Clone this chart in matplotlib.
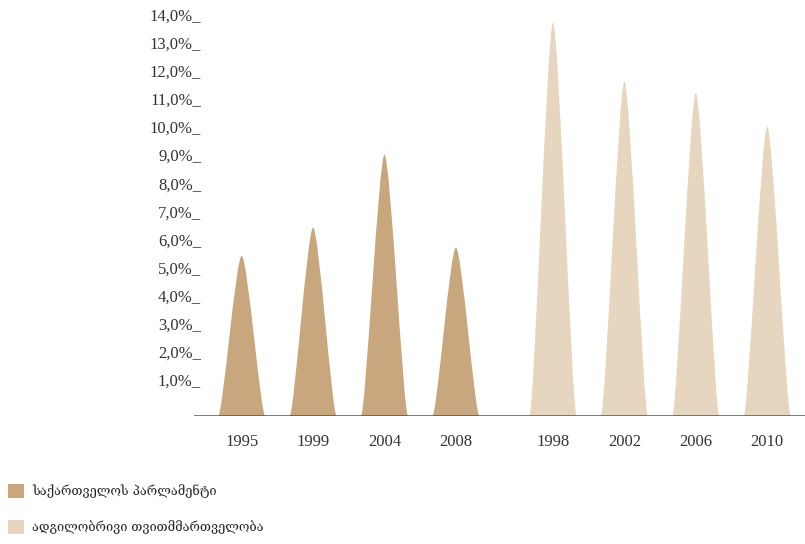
import matplotlib
matplotlib.use("Agg")
import matplotlib.pyplot as plt
from matplotlib.path import Path
from matplotlib.patches import PathPatch, Patch
from matplotlib.transforms import blended_transform_factory, offset_copy

# ---- data ----
parl_years = ["1995", "1999", "2004", "2008"]
parl_values = [5.7, 6.7, 9.3, 6.0]
local_years = ["1998", "2002", "2006", "2010"]
local_values = [14.0, 11.9, 11.5, 10.3]
series_labels = ["საქართველოს პარლამენტი", "ადგილობრივი თვითმმართველობა"]
series_colors = ["#C8A77F", "#E6D6C0"]
ytick_values = list(range(1, 15))
ytick_labels = [f"{v},0%_" for v in ytick_values]

# ---- layout ----
W, H, DPI = 805, 544, 100
fig = plt.figure(figsize=(W / DPI, H / DPI), dpi=DPI)
base_px = 416
px_per_unit_y = 28.1
ymax = 14.5
top_px = base_px - ymax * px_per_unit_y
ax = fig.add_axes([194 / W, 1 - base_px / H, (W - 194) / W, (base_px - top_px) / H])

group_gap = 4.36
x_parl = [i for i in range(len(parl_values))]
x_local = [group_gap + i for i in range(len(local_values))]
hw = 0.33  # half width of a peak in category units
c_base, c_top = 0.8, 0.25  # bezier control shape


def peak(x0, v):
    verts = [
        (x0 - hw, 0),
        (x0 - c_base * hw, 0), (x0 - c_top * hw, v), (x0, v),
        (x0 + c_top * hw, v), (x0 + c_base * hw, 0), (x0 + hw, 0),
        (x0 - hw, 0),
    ]
    codes = [Path.MOVETO,
             Path.CURVE4, Path.CURVE4, Path.CURVE4,
             Path.CURVE4, Path.CURVE4, Path.CURVE4,
             Path.CLOSEPOLY]
    return Path(verts, codes)


for xs, vals, col in [(x_parl, parl_values, series_colors[0]),
                      (x_local, local_values, series_colors[1])]:
    for x0, v in zip(xs, vals):
        ax.add_patch(PathPatch(peak(x0, v), facecolor=col, edgecolor="none", zorder=2))

ax.set_xlim(-0.668, 7.889)
ax.set_ylim(0, ymax)
ax.axhline(0, color="#555555", lw=1.8, zorder=3)

for s in ax.spines.values():
    s.set_visible(False)

serif = ["Liberation Serif", "DejaVu Serif"]
ax.set_xticks(x_parl + x_local)
ax.set_xticklabels(parl_years + local_years, family=serif, fontsize=12, color="#333333")
ax.tick_params(axis="x", length=0, pad=13)
ax.set_yticks([])

tr = blended_transform_factory(fig.transFigure, ax.transData)
tr = offset_copy(tr, fig=fig, x=0, y=2, units="dots")
for v, lab in zip(ytick_values, ytick_labels):
    ax.text(201 / W, v, lab, transform=tr, ha="right", va="baseline",
            family=serif, fontsize=12, color="#333333")

handles = [Patch(facecolor=c, edgecolor="none") for c in series_colors]
leg = fig.legend(handles, series_labels, loc="upper left",
                 bbox_to_anchor=(8 / W, 1 - 484 / H), bbox_transform=fig.transFigure,
                 frameon=False, borderpad=0, borderaxespad=0,
                 handlelength=1.25, handleheight=1.25, handletextpad=0.65,
                 labelspacing=1.75,
                 prop={"family": ["DejaVu Serif", "DejaVu Sans"], "size": 9.2})
for t in leg.get_texts():
    t.set_color("#222222")

fig.savefig("out.png", dpi=DPI)
